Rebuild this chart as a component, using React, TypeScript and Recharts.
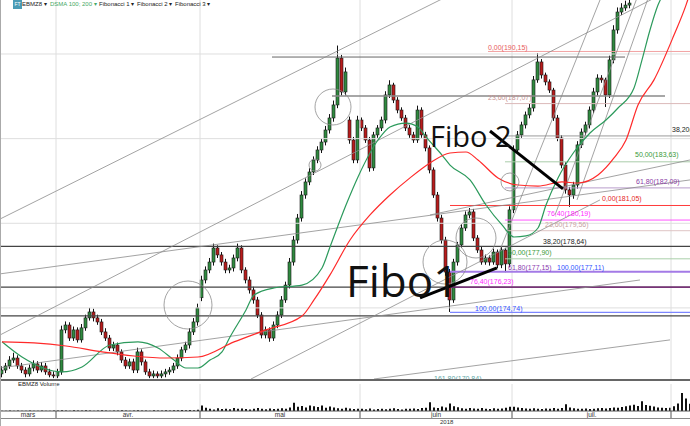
import { ComposedChart, Bar, Line, XAxis, YAxis, ReferenceLine, ReferenceDot } from 'recharts'

// EBMZ8 candles (one candle per slot)
const opens = [
  171.10, 171.33, 171.57, 171.92, 172.04, 171.57, 171.33, 171.10, 171.45, 171.69,
  171.33, 171.57, 171.22, 171.04, 170.98, 171.22, 173.70, 173.99, 173.22, 173.70,
  173.11, 173.82, 174.41, 174.76, 174.41, 174.17, 173.58, 173.22, 172.63, 172.81,
  172.40, 171.92, 171.57, 171.81, 171.33, 172.40, 171.81, 171.22, 170.98, 171.10,
  170.98, 171.10, 171.22, 171.33, 171.57, 172.04, 172.52, 172.81, 173.58, 174.17,
  175.60, 176.65, 177.24, 177.71, 178.54, 178.13, 177.71, 177.24, 177.36, 177.95,
  178.54, 177.24, 176.65, 176.06, 175.47, 174.58, 173.40, 173.70, 173.22, 173.99,
  174.58, 175.47, 176.35, 177.71, 179.01, 180.31, 181.67, 182.44, 183.03, 183.74,
  184.33, 184.80, 185.51, 186.22, 186.99, 189.76, 187.76, 186.10, 184.92, 183.74,
  186.10, 185.63, 184.92, 183.27, 185.22, 185.63, 186.10, 187.58, 188.17, 187.28,
  186.69, 186.22, 185.63, 185.22, 184.92, 186.69, 185.22, 184.45, 183.15, 181.67,
  180.31, 179.01, 177.12, 175.47, 177.71, 178.72, 179.72, 180.49, 180.67, 179.13,
  178.42, 177.71, 177.95, 177.71, 178.30, 177.54, 178.42, 177.60, 180.79, 184.33,
  185.22, 185.81, 186.40, 186.81, 188.47, 189.53, 188.76, 188.35, 187.87, 186.22,
  185.04, 183.44, 181.97, 181.67, 182.26, 184.63, 185.39, 185.81, 186.69, 187.76,
  188.58, 188.47, 187.58, 189.65, 191.42, 192.48, 192.72, 192.89,
]
const highs = [
  171.55, 171.75, 172.15, 172.35, 172.20, 171.75, 171.50, 171.65, 171.90, 171.85,
  171.80, 171.75, 171.40, 171.25, 171.40, 173.95, 174.20, 174.15, 173.90, 173.85,
  174.05, 174.60, 175.00, 174.95, 174.60, 174.35, 173.80, 173.40, 173.00, 172.95,
  172.55, 172.10, 172.00, 172.00, 172.65, 172.55, 171.95, 171.40, 171.30, 171.25,
  171.30, 171.40, 171.50, 171.75, 172.25, 172.70, 173.00, 173.80, 174.40, 175.25,
  176.90, 177.45, 177.95, 178.80, 178.70, 178.30, 177.90, 177.55, 178.15, 178.80,
  178.70, 177.40, 176.85, 176.25, 175.65, 174.75, 173.90, 173.85, 174.20, 174.80,
  175.70, 176.55, 177.95, 179.25, 180.55, 181.90, 182.65, 183.25, 183.95, 184.55,
  185.00, 185.75, 186.45, 187.25, 190.50, 189.95, 189.20, 186.30, 185.10, 186.35,
  186.25, 185.80, 185.10, 185.40, 185.80, 186.30, 187.80, 188.45, 188.30, 187.45,
  186.85, 186.40, 185.80, 185.40, 186.95, 186.85, 185.40, 184.60, 183.30, 181.85,
  180.50, 179.20, 177.30, 177.90, 178.90, 179.95, 180.70, 180.90, 180.85, 179.30,
  178.60, 178.15, 178.10, 178.50, 178.45, 178.60, 178.55, 181.00, 184.60, 185.45,
  186.00, 186.60, 187.05, 188.70, 190.05, 189.70, 188.90, 188.50, 188.00, 186.40,
  185.20, 183.60, 182.15, 182.45, 184.85, 185.60, 186.00, 186.90, 188.00, 188.80,
  188.75, 188.60, 189.90, 191.70, 192.75, 193.00, 193.15, 193.30,
]
const lows = [
  170.90, 171.15, 171.40, 171.75, 171.40, 171.15, 170.90, 170.95, 171.25, 171.15,
  171.20, 171.05, 170.90, 170.85, 170.85, 171.05, 173.50, 173.05, 173.05, 172.95,
  172.95, 173.65, 174.25, 174.20, 174.00, 173.40, 173.05, 172.45, 172.45, 172.20,
  171.75, 171.40, 171.40, 171.15, 171.15, 171.60, 171.05, 170.85, 170.85, 170.85,
  170.85, 170.90, 171.05, 171.15, 171.40, 171.85, 172.35, 172.60, 173.40, 173.95,
  175.40, 176.45, 177.05, 177.50, 177.95, 177.50, 177.05, 177.05, 177.15, 177.75,
  177.05, 176.45, 175.85, 175.25, 174.40, 173.20, 173.20, 173.00, 173.05, 173.80,
  174.40, 175.30, 176.15, 177.50, 178.80, 180.10, 181.45, 182.25, 182.85, 183.55,
  184.15, 184.60, 185.30, 186.00, 186.80, 187.55, 187.55, 184.70, 183.55, 183.55,
  185.45, 184.75, 183.05, 183.10, 185.05, 185.45, 185.90, 187.40, 187.10, 186.50,
  186.05, 185.45, 185.05, 184.75, 184.75, 185.05, 184.25, 182.95, 181.50, 180.10,
  178.80, 176.90, 174.76, 175.30, 177.50, 178.55, 179.55, 180.30, 178.95, 178.25,
  177.55, 177.55, 177.50, 177.55, 177.35, 177.35, 177.11, 177.40, 180.60, 184.15,
  185.05, 185.60, 186.20, 186.60, 188.30, 188.55, 188.15, 187.70, 186.05, 184.85,
  183.25, 181.75, 180.97, 181.45, 182.05, 184.45, 185.20, 185.60, 186.50, 187.55,
  188.30, 186.87, 187.40, 189.45, 191.20, 192.30, 192.55, 192.70,
]
const closes = [
  171.33, 171.57, 171.92, 172.04, 171.57, 171.33, 171.10, 171.45, 171.69, 171.33,
  171.57, 171.22, 171.04, 170.98, 171.22, 173.70, 173.99, 173.22, 173.70, 173.11,
  173.82, 174.41, 174.76, 174.41, 174.17, 173.58, 173.22, 172.63, 172.81, 172.40,
  171.92, 171.57, 171.81, 171.33, 172.40, 171.81, 171.22, 170.98, 171.10, 170.98,
  171.10, 171.22, 171.33, 171.57, 172.04, 172.52, 172.81, 173.58, 174.17, 175.00,
  176.65, 177.24, 177.71, 178.54, 178.13, 177.71, 177.24, 177.36, 177.95, 178.54,
  177.24, 176.65, 176.06, 175.47, 174.58, 173.40, 173.70, 173.22, 173.99, 174.58,
  175.47, 176.35, 177.71, 179.01, 180.31, 181.67, 182.44, 183.03, 183.74, 184.33,
  184.80, 185.51, 186.22, 186.99, 189.76, 187.76, 188.94, 184.92, 183.74, 186.10,
  185.63, 184.92, 183.27, 185.22, 185.63, 186.10, 187.58, 188.17, 187.28, 186.69,
  186.22, 185.63, 185.22, 184.92, 186.69, 185.22, 184.45, 183.15, 181.67, 180.31,
  179.01, 177.12, 175.47, 177.71, 178.72, 179.72, 180.49, 180.67, 179.13, 178.42,
  177.71, 177.95, 177.71, 178.30, 177.54, 178.42, 177.60, 180.79, 184.33, 185.22,
  185.81, 186.40, 186.81, 188.47, 189.53, 188.76, 188.35, 187.87, 186.22, 185.04,
  183.44, 181.97, 181.67, 182.26, 184.63, 185.39, 185.81, 186.69, 187.76, 188.58,
  188.47, 187.58, 189.65, 191.42, 192.48, 192.72, 192.89, 193.01,
]
const volumes = [
  20, 15, 30, 10, 25, 20, 15, 30, 20, 10, 25, 15, 20, 30,
  25, 40, 30, 20, 35, 25, 30, 45, 30, 20, 25, 35, 30, 20, 25, 30, 40, 25, 20, 30,
  35, 25, 30, 20, 40, 30, 25, 35, 30, 45, 40, 50, 35, 60, 45, 70,
  300, 180, 120, 90, 150, 110, 130, 100, 160, 120, 140, 110, 90, 130, 170, 120, 100, 140, 110, 130,
  150, 120, 200, 460, 240, 280, 190, 300, 260, 220, 310, 180, 250, 200, 150, 120, 180, 140, 110, 130,
  120, 100, 140, 90, 110, 130, 100, 120, 150, 110, 90, 130, 120, 140, 110, 160, 180, 480, 200, 170,
  250, 190, 420, 260, 210, 150, 130, 170, 140, 120, 160, 130, 110, 150, 120, 140, 180, 240,
  230, 190, 160, 140, 120, 150, 130, 110, 140, 120, 160, 130, 170, 380, 200, 150, 130, 120, 140, 110,
  130, 150, 170, 140, 160, 190, 180, 220, 260, 300, 350, 280, 540, 330, 290, 250, 200, 180, 160,
  180, 260, 420, 1000, 700, 400,
]

// moving averages, [slot, value] read at a few points
const sma100: [number, number][] = [
  [0, 173.0], [5, 172.1], [15, 171.22], [20, 171.51], [27, 172.81], [34, 172.99], [39, 172.63],
  [43, 171.92], [46, 171.45], [49, 171.45], [52, 171.92], [55, 172.4], [57, 173.28], [61, 174.88],
  [63, 175.76], [68, 176.18], [75, 176.35], [80, 177.36], [82, 178.6], [86, 181.08], [89, 182.74],
  [94, 184.92], [97, 185.69], [101, 185.92], [104, 185.69], [106, 185.1], [110, 184.03], [112, 183.44],
  [117, 182.56], [121, 181.08], [125, 179.9], [128, 179.19], [131, 179.25], [134, 179.72],
  [136, 181.08], [139, 182.68], [143, 184.21], [147, 185.33], [151, 186.1], [154, 186.81],
  [158, 187.99], [160, 189.65], [162, 191.42], [164, 192.89], [166, 193.8],
]
const sma200: [number, number][] = [
  [0, 172.99], [8, 172.93], [16, 172.75], [25, 172.4], [33, 172.16], [41, 172.04], [49, 172.1],
  [58, 172.99], [66, 173.7], [75, 174.52], [78, 175.47], [82, 176.95], [87, 179.01], [92, 180.49],
  [97, 181.67], [102, 182.68], [107, 183.56], [112, 184.15], [116, 184.21], [119, 183.74],
  [124, 182.68], [129, 182.26], [134, 182.2], [140, 182.44], [144, 182.38], [149, 182.85],
  [153, 183.86], [156, 184.92], [159, 186.99], [163, 188.47], [168, 191.12], [171, 192.89], [172, 193.6],
]

const monthEdges = [13.5, 49.5, 89.5, 127.5, 167.25]
const monthMids = [6.5, 31.5, 69.5, 108.5, 147.4]
const monthNames = ['mars', 'avr.', 'mai', 'juin', 'juil.']
const priceGrid = [175, 180, 185, 190]

// horizontal levels: [price, from slot, to slot, colour, width]
const levels: [number, number, number, string, number][] = [
  [189.82, 67.5, 155.75, '#666', 1],
  [187.52, 82.5, 165.75, '#8a8a8a', 1.5],
  [190.15, 121.5, 172, '#f2a3a3', 1],
  [187.07, 125.75, 172, '#dbb9b9', 1],
  [185.16, 125.75, 172, '#9a9a9a', 1],
  [183.63, 125.75, 172, '#a9cca9', 1],
  [182.09, 125.75, 172, '#b99ccb', 1],
  [180.19, 125.75, 172, '#ff55ff', 1],
  [181.05, 112, 172, '#ff3b3b', 1],
  [179.56, 125.75, 172, '#dfc4c4', 1],
  [177.9, 125.75, 172, '#a9cfa9', 1],
  [177.13, 112, 172, '#a37ae6', 2],
  [176.23, 112, 172, '#7a1f7a', 1.2],
  [174.74, 112, 172, '#7d86ff', 1.2],
]
const fullLevels = [178.64, 176.23, 174.53]

// trend lines: [slot1, price1, slot2, price2]
const trendLines: [number, number, number, number][] = [
  [-0.5, 180.25, 114.5, 193.78],
  [-0.5, 173.4, 167, 193.78],
  [-0.5, 177.01, 172, 182.56],
  [107, 180.49, 172, 183.74],
  [-0.5, 171.45, 159.5, 176.65],
  [62.25, 170.8, 149.5, 181.38],
  [93, 170.8, 167, 173.11],
  [124.5, 178.42, 150.5, 193.78],
  [138.25, 180.49, 159.5, 193.78],
  [143.75, 181.38, 162.25, 193.78],
]
const markerLines: [number, number, number, number][] = [
  [104.5, 175.59, 123.75, 177.36],
  [122, 185.45, 140.25, 182.03],
]
// circles: [slot, price, radius]
const circles: [number, number, number][] = [
  [82.75, 186.87, 18], [46.5, 175.17, 24], [110.75, 177.71, 22],
  [118.5, 179.13, 20], [127, 182.44, 9], [78.25, 183.44, 6],
]

const fibLabels = [
  { text: '0,00(190,15)', t: 121.5, p: 190.24, color: '#e85a5a' },
  { text: '23,60(187,07)', t: 121.5, p: 187.28, color: '#c99393' },
  { text: '38,20(185,16)', t: 167.5, p: 185.39, color: '#222' },
  { text: '50,00(183,63)', t: 158.25, p: 183.92, color: '#3a9a3a' },
  { text: '61,80(182,09)', t: 158.5, p: 182.32, color: '#8a3aa6' },
  { text: '0,00(181,05)', t: 150, p: 181.32, color: '#e52525' },
  { text: '76,40(180,19)', t: 136.25, p: 180.43, color: '#ff2bff' },
  { text: '23,60(179,56)', t: 135.75, p: 179.78, color: '#c9a3a3' },
  { text: '38,20(178,64)', t: 135.25, p: 178.78, color: '#222' },
  { text: '50,00(177,90)', t: 126.5, p: 178.13, color: '#3a9a3a' },
  { text: '61,80(177,15)', t: 126.5, p: 177.24, color: '#8a3ab0' },
  { text: '100,00(177,11)', t: 138.75, p: 177.24, color: '#3050ff' },
  { text: '76,40(176,23)', t: 117, p: 176.41, color: '#ff2bff' },
  { text: '100,00(174,74)', t: 118.25, p: 174.82, color: '#3050ff' },
  { text: '161,80(170,84)', t: 108, p: 170.68, color: '#5fa8a8' },
]

const rows = volumes.map((v, i) => ({
  t: i,
  vol: v,
  range: i < closes.length ? [lows[i], highs[i]] : null,
  o: opens[i],
  h: highs[i],
  l: lows[i],
  c: closes[i],
  ma100: null as number | null,
  ma200: null as number | null,
}))
sma100.forEach(([t, v]) => { rows[t].ma100 = v })
sma200.forEach(([t, v]) => { rows[t].ma200 = v })

const FONT = '"Liberation Sans", Arial, sans-serif'

function Candle(props: any) {
  const { x, y, width, height, payload } = props
  if (!payload || payload.h == null || !isFinite(y)) return null
  const span = payload.h - payload.l
  const toY = (p: number) => y + ((payload.h - p) / span) * height
  const up = payload.c >= payload.o
  const top = toY(Math.max(payload.o, payload.c))
  const bot = toY(Math.min(payload.o, payload.c))
  const cx = x + width / 2
  return (
    <g>
      <line x1={cx} x2={cx} y1={y} y2={y + height} stroke="#111" strokeWidth={1} />
      <rect x={x} y={top} width={width} height={Math.max(1, bot - top)}
        fill={up ? '#2f8a3f' : '#b81c1c'} stroke="#1a1a1a" strokeWidth={0.6} />
    </g>
  )
}

function textAt(text: string, color: string, size: number, family: string) {
  return (p: any) => (
    <text x={p.cx} y={p.cy} fontSize={size} fontFamily={family} fill={color}>{text}</text>
  )
}

function MonthTick(props: any) {
  const { x, y, payload } = props
  const v = payload.value
  if (monthEdges.includes(v)) {
    return <line x1={x} x2={x} y1={y} y2={y + 7} stroke="#555" />
  }
  const k = monthMids.indexOf(v)
  return (
    <text x={x} y={y + 6} textAnchor="middle" fontSize={6.5} fontFamily={FONT} fill="#333">
      {monthNames[k]}
    </text>
  )
}

export default function App() {
  const toolbar = [
    { label: 'EBMZ8 ▾', left: 22, color: '#222' },
    { label: 'DSMA 100; 200 ▾', left: 50, color: '#45a865' },
    { label: 'Fibonacci 1 ▾', left: 99, color: '#222' },
    { label: 'Fibonacci 2 ▾', left: 137, color: '#222' },
    { label: 'Fibonacci 3 ▾', left: 175, color: '#222' },
  ]
  return (
    <div style={{ position: 'absolute', left: 0, top: 0, width: 690, height: 426, background: '#fff', overflow: 'hidden', fontFamily: FONT }}>
      <div style={{ position: 'absolute', left: 0, top: 0 }}>
        <ComposedChart width={690} height={379} data={rows} margin={{ top: 0, right: 0, bottom: 0, left: 0 }}>
          <XAxis dataKey="t" type="number" domain={[-0.5, 172]} hide allowDataOverflow />
          <YAxis type="number" domain={[170.8, 193.19]} hide allowDataOverflow />
          {monthEdges.map(m => (
            <ReferenceLine key={'v' + m} x={m} stroke="#dedede" ifOverflow="hidden" />
          ))}
          {priceGrid.map(g => (
            <ReferenceLine key={'g' + g} y={g} stroke="#dedede" ifOverflow="hidden" />
          ))}
          {fullLevels.map(p => (
            <ReferenceLine key={'f' + p} y={p} stroke="#444" strokeWidth={1.2} ifOverflow="hidden" />
          ))}
          {levels.map(([p, a, b, col, w], i) => (
            <ReferenceLine key={'l' + i} segment={[{ x: a, y: p }, { x: b, y: p }]} stroke={col} strokeWidth={w} ifOverflow="hidden" />
          ))}
          {trendLines.map(([a, p, b, q], i) => (
            <ReferenceLine key={'t' + i} segment={[{ x: a, y: p }, { x: b, y: q }]} stroke="#8c8c8c" strokeWidth={0.8} ifOverflow="hidden" />
          ))}
          {circles.map(([t, p, r], i) => (
            <ReferenceDot key={'c' + i} x={t} y={p} r={r} fill="none" stroke="#8c8c8c" strokeWidth={0.8} ifOverflow="visible" />
          ))}
          <Line dataKey="ma100" type="monotone" stroke="#2c9a5c" strokeWidth={1.2} dot={false} connectNulls isAnimationActive={false} />
          <Line dataKey="ma200" type="monotone" stroke="#ff2a2a" strokeWidth={1.2} dot={false} connectNulls isAnimationActive={false} />
          <Bar dataKey="range" barSize={3} shape={<Candle />} isAnimationActive={false} />
          {fibLabels.map((f, i) => (
            <ReferenceDot key={'fl' + i} x={f.t} y={f.p} r={0} ifOverflow="visible"
              shape={textAt(f.text, f.color, 7, FONT)} />
          ))}
          {markerLines.map(([a, p, b, q], i) => (
            <ReferenceLine key={'m' + i} segment={[{ x: a, y: p }, { x: b, y: q }]} stroke="#000" strokeWidth={3} ifOverflow="visible" />
          ))}
          <ReferenceDot x={86} y={175.65} r={0} ifOverflow="visible" shape={textAt('Fibo1', '#111', 44, '"Open Sans", sans-serif')} />
          <ReferenceDot x={107} y={184.51} r={0} ifOverflow="visible" shape={textAt('Fibo 2', '#111', 29, '"Open Sans", sans-serif')} />
        </ComposedChart>
      </div>

      {toolbar.map(tb => (
        <span key={tb.label} style={{ position: 'absolute', top: 0, left: tb.left, fontSize: 6, lineHeight: '9px', color: tb.color, whiteSpace: 'nowrap' }}>
          {tb.label}
        </span>
      ))}
      <div style={{ position: 'absolute', top: 0, left: 13, width: 9, height: 9, background: '#4a9bb5', color: '#fff', fontSize: 5, lineHeight: '9px', textAlign: 'center' }}>FT</div>

      <div style={{ position: 'absolute', top: 379, left: 0, width: 690, height: 0, borderTop: '2px solid #666' }} />
      <div style={{ position: 'absolute', top: 381, left: 18, fontSize: 6, lineHeight: '7px', color: '#222' }}>EBMZ8 Volume</div>

      <div style={{ position: 'absolute', left: 0, top: 380 }}>
        <ComposedChart width={690} height={38} data={rows} margin={{ top: 4, right: 0, bottom: 0, left: 0 }}>
          <XAxis dataKey="t" type="number" domain={[-0.5, 172]} allowDataOverflow height={7}
            ticks={[...monthEdges, ...monthMids]} interval={0} tickSize={0} tickMargin={0}
            tickLine={false} axisLine={{ stroke: '#555' }} tick={<MonthTick />} />
          <YAxis type="number" domain={[0, 1500]} hide />
          {monthEdges.map(m => (
            <ReferenceLine key={'vv' + m} x={m} stroke="#dedede" />
          ))}
          <Bar dataKey="vol" barSize={2} fill="#111" isAnimationActive={false} />
        </ComposedChart>
      </div>

      <div style={{ position: 'absolute', top: 418, left: 0, width: 690, height: 8, borderTop: '1px solid #888' }} />
      <div style={{ position: 'absolute', top: 419, left: 440, fontSize: 6, lineHeight: '7px', color: '#333' }}>2018</div>
      <div style={{ position: 'absolute', top: 0, left: 0, width: 1, height: 426, background: '#aaa' }} />
    </div>
  )
}
